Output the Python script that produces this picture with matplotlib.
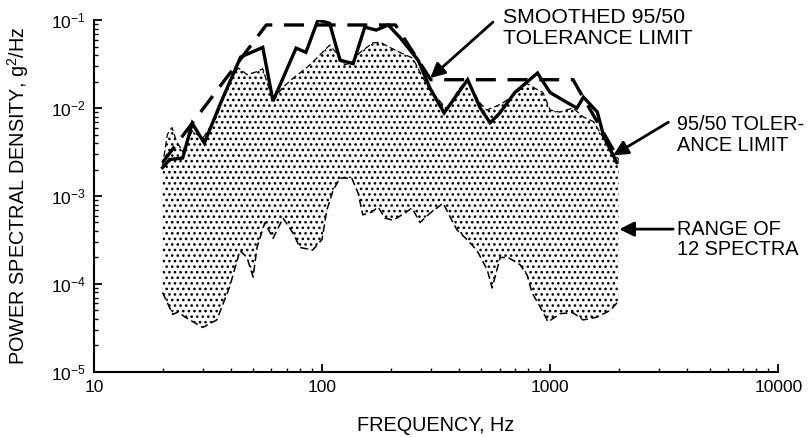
import numpy as np
import matplotlib
matplotlib.use("Agg")
import matplotlib.pyplot as plt
from matplotlib.ticker import FixedLocator, LogLocator, NullFormatter

plt.rcParams['font.family'] = ['Liberation Sans', 'DejaVu Sans']
plt.rcParams['mathtext.default'] = 'regular'
plt.rcParams['hatch.linewidth'] = 1.1

# 95/50 tolerance limit (solid)
f_tol = [20, 21.5, 24.5, 27, 30.5, 36, 44, 55, 61, 77, 85, 96, 108, 120, 137, 154,
         173, 195, 219, 264, 297, 343, 435, 494, 546, 600, 700, 880, 1000, 1190,
         1310, 1400, 1610, 1720, 1960]
v_tol = [2.1e-3, 2.6e-3, 2.7e-3, 6.7e-3, 4.0e-3, 1.15e-2, 3.8e-2, 4.9e-2, 1.2e-2,
         4.8e-2, 4.3e-2, 0.1, 0.092, 3.5e-2, 3.2e-2, 8.3e-2, 7.7e-2, 8.8e-2, 6.4e-2,
         3.5e-2, 1.7e-2, 8.8e-3, 2.1e-2, 1.0e-2, 6.8e-3, 8.7e-3, 1.5e-2, 2.5e-2,
         1.5e-2, 1.15e-2, 1.0e-2, 1.33e-2, 9e-3, 4.7e-3, 2.4e-3]

# smoothed 95/50 tolerance limit (heavy dashed)
f_smooth = [20, 57, 210, 300, 1260, 2000]
v_smooth = [2.4e-3, 0.088, 0.088, 0.021, 0.021, 2.6e-3]

# range of 12 spectra: upper and lower envelopes
f_up = [20, 21, 22, 23, 24.5, 27, 30, 34.5, 38, 41, 43, 47, 52, 55, 61, 67, 75, 86,
        96, 108, 116, 126, 135, 147, 167, 180, 195, 219, 250, 270, 297, 320, 354,
        390, 430, 493, 527, 580, 620, 714, 790, 850, 930, 1000, 1100, 1260, 1400,
        1550, 1700, 1840, 2000]
v_up = [2.2e-3, 5e-3, 6e-3, 4.2e-3, 3.2e-3, 5.5e-3, 4.5e-3, 7.9e-3, 1.6e-2, 2.5e-2,
        2.85e-2, 2.4e-2, 2.6e-2, 2.8e-2, 1.2e-2, 1.7e-2, 2.2e-2, 2.9e-2, 3.8e-2,
        5.2e-2, 4.2e-2, 3.1e-2, 3.3e-2, 4.3e-2, 5.5e-2, 5.6e-2, 5.0e-2, 4.3e-2,
        3.7e-2, 2.5e-2, 1.6e-2, 1.3e-2, 9.5e-3, 1.5e-2, 2.1e-2, 1.14e-2, 9.5e-3,
        1.05e-2, 1.14e-2, 1.5e-2, 1.9e-2, 1.7e-2, 1.5e-2, 9.5e-3, 9e-3, 1.0e-2,
        7.9e-3, 7.0e-3, 4.7e-3, 3.3e-3, 2.6e-3]

f_lo = [20, 22.2, 23.4, 25.1, 30, 34.6, 39.4, 43.7, 46.9, 49.9, 51.9, 56.2, 61, 67.5,
        74.6, 80, 91, 100, 105, 112, 120, 135, 144, 151, 166, 176, 189, 205, 231,
        248, 269, 298, 340, 364, 391, 432, 478, 530, 557, 604, 655, 739, 793, 834,
        904, 980, 1106, 1260, 1396, 1608, 1833, 1986]
v_lo = [8e-5, 4.5e-5, 4.8e-5, 4.2e-5, 3.2e-5, 3.9e-5, 9.3e-5, 2.4e-4, 2.0e-4, 1.2e-4,
        2.6e-4, 5e-4, 3.3e-4, 5.6e-4, 3.8e-4, 2.6e-4, 2.43e-4, 3.2e-4, 6.9e-4,
        1.17e-3, 1.6e-3, 1.6e-3, 1.08e-3, 6.1e-4, 6.6e-4, 7.5e-4, 5.6e-4, 5.3e-4,
        6.4e-4, 7.3e-4, 5.0e-4, 6.4e-4, 8.3e-4, 5.8e-4, 4.1e-4, 3.2e-4, 2.4e-4,
        1.45e-4, 9e-5, 2.0e-4, 2.0e-4, 1.65e-4, 1.26e-4, 7.9e-5, 5.5e-5, 3.7e-5,
        4.6e-5, 4.7e-5, 3.9e-5, 4.2e-5, 5.0e-5, 6.3e-5]

x_ticks = [10, 100, 1000, 10000]
x_ticklabels = ['10', '100', '1000', '10000']
y_ticks = [1e-5, 1e-4, 1e-3, 1e-2, 1e-1]
y_ticklabels = ['10$^{-5}$', '10$^{-4}$', '10$^{-3}$', '10$^{-2}$', '10$^{-1}$']

fig = plt.figure(figsize=(8.09, 4.37), dpi=100)
ax = fig.add_axes([0.116, 0.149, 0.846, 0.805])

# stippled band between the envelopes
ax.fill(np.r_[f_up, f_lo[::-1]], np.r_[v_up, v_lo[::-1]],
        facecolor='white', edgecolor='black', hatch='...', lw=0)
ax.plot(f_up, v_up, color='black', lw=0.9, dashes=(5, 2.5))
ax.plot(f_lo, v_lo, color='black', lw=1.1, dashes=(5, 2.5))
ax.plot(f_tol, v_tol, color='black', lw=2.4, solid_joinstyle='miter')
ax.plot(f_smooth, v_smooth, color='black', lw=2.4, dashes=(6, 3.5))

ax.set_xscale('log')
ax.set_yscale('log')
ax.set_xlim(10, 10000)
ax.set_ylim(1e-5, 1e-1)
ax.xaxis.set_major_locator(FixedLocator(x_ticks))
ax.set_xticklabels(x_ticklabels)
ax.yaxis.set_major_locator(FixedLocator(y_ticks))
ax.set_yticklabels(y_ticklabels)
ax.xaxis.set_minor_locator(LogLocator(base=10, subs=np.arange(2, 10)))
ax.yaxis.set_minor_locator(LogLocator(base=10, subs=np.arange(2, 10)))
ax.xaxis.set_minor_formatter(NullFormatter())
ax.yaxis.set_minor_formatter(NullFormatter())

for s in ['top', 'right']:
    ax.spines[s].set_visible(False)
for s in ['left', 'bottom']:
    ax.spines[s].set_linewidth(1.5)
ax.tick_params(which='major', direction='in', length=6, width=1.3, labelsize=12.5, pad=6)
ax.tick_params(which='minor', direction='in', length=3, width=1.0)

ax.set_xlabel('FREQUENCY, Hz', fontsize=14.3, labelpad=15)
ax.set_ylabel('POWER SPECTRAL DENSITY, g$^2$/Hz', fontsize=14.3, labelpad=14)

# callouts: text plus separate arrows
arrow = dict(arrowstyle='-|>', color='black', lw=2, mutation_scale=22, shrinkA=0, shrinkB=0)
ax.text(622, 0.137, 'SMOOTHED 95/50\nTOLERANCE LIMIT', fontsize=15.3,
        ha='left', va='top', linespacing=1.1)
ax.annotate('', xy=(298, 0.0219), xytext=(562, 0.095), arrowprops=arrow)

ax.text(3600, 4.9e-3, '95/50 TOLER-\nANCE LIMIT', fontsize=14.3,
        ha='left', va='center', linespacing=1.15)
ax.annotate('', xy=(1890, 2.9e-3), xytext=(3300, 6.9e-3), arrowprops=arrow)

ax.text(3600, 3.2e-4, 'RANGE OF\n12 SPECTRA', fontsize=14.3,
        ha='left', va='center', linespacing=1.1)
ax.annotate('', xy=(2010, 4.2e-4), xytext=(3460, 4.2e-4), arrowprops=arrow)

fig.savefig('out.png', dpi=100)
